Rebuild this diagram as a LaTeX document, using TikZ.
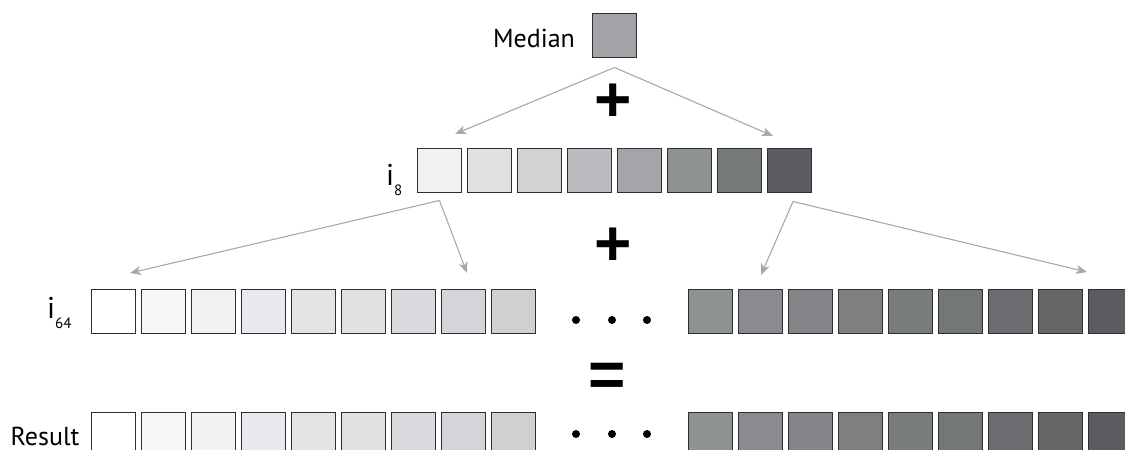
\documentclass[tikz,border=0pt]{standalone}
\usepackage{fontspec}
\setmainfont{PT Sans}
\newfontfamily\opfont{Liberation Sans}
\usetikzlibrary{arrows.meta}
\definecolor{boxc}{HTML}{2E2E2E}
\definecolor{arrc}{HTML}{A8A8A8}
\definecolor{medc}{HTML}{A3A2A7}
\begin{document}
\begin{tikzpicture}[x=1pt,y=-1pt,
  cell/.style={draw=boxc, line width=1.5pt, minimum size=44pt, inner sep=0pt, outer sep=0pt},
  arr/.style={draw=arrc, line width=1.1pt, -{Stealth[length=11pt,width=9pt,inset=3pt]}},
  lbl/.style={font=\fontsize{26}{26}\selectfont, inner sep=0pt},
  ilbl/.style={font=\fontsize{30}{30}\selectfont, inner sep=0pt, anchor=base west},
  subl/.style={font=\fontsize{15}{15}\selectfont},
  op/.style={font=\opfont\bfseries\fontsize{64}{64}\selectfont, inner sep=0pt},
  dotc/.style={circle, fill=black, minimum size=8pt, inner sep=0pt}]
\useasboundingbox (0,0) rectangle (1125,450);
\clip (0,0) rectangle (1125,450);
% Median
\node[cell, fill=medc] (med) at (614.5,35.5) {};
\node[lbl, anchor=base] (medl) at (534,47) {Median};
% i8 row
\foreach \c [count=\k] in {F2F2F2,E1E1E1,D2D2D2,BBBBBF,A5A5A9,8E9391,767B7A,5C5D62}{
  \definecolor{tmp}{HTML}{\c}
  \node[cell, fill=tmp] (e\k) at ({389.5+50*\k},170.5) {};
}
\node[ilbl] (i8l) at (386,185) {i\raisebox{-10pt}{\fontsize{15}{15}\selectfont 8}};
% i64 row and result row
\foreach \c [count=\k] in {FFFFFF,F6F6F6,F2F2F2,E9E9ED,E4E4E4,E1E1E1,D8D9DD,D4D5D8,D0D0D0}{
  \definecolor{tmp}{HTML}{\c}
  \node[cell, fill=tmp] (s\k) at ({63.5+50*\k},311.5) {};
  \node[cell, fill=tmp] (r\k) at ({63.5+50*\k},434.5) {};
}
\foreach \c [count=\k] in {8E9391,8B8A8F,858489,7F7F7E,787C7B,727876,6C6B70,676765,5B5C60}{
  \definecolor{tmp}{HTML}{\c}
  \node[cell, fill=tmp] (t\k) at ({660.5+50*\k},311.5) {};
  \node[cell, fill=tmp] (u\k) at ({660.5+50*\k},434.5) {};
}
\node[ilbl] (i64l) at (47,318) {i\raisebox{-10pt}{\fontsize{15}{15}\selectfont 64}};
\node[lbl, anchor=base] (resl) at (45,445) {Result};
% dots
\node[dotc] (da1) at (576,320) {};
\node[dotc] (da2) at (612,320) {};
\node[dotc] (da3) at (647,320) {};
\node[dotc] (db1) at (576,434) {};
\node[dotc] (db2) at (612,434) {};
\node[dotc] (db3) at (647,434) {};
% operators
\node[op] (plus1) at (613,103) {+};
\node[op] (plus2) at (613,247) {+};
\node[op] (eq) at (607,380) {=};
% arrows
\coordinate (apx0) at ([yshift=-10pt]med.south);
\coordinate (ta) at (455,134);
\coordinate (tb) at (773,136);
\draw[arr] (apx0) -- (ta);
\draw[arr] (apx0) -- (tb);
\coordinate (apx1) at ([yshift=-8pt]e1.south);
\coordinate (tc) at (130,273);
\coordinate (td) at (467,273);
\draw[arr] (apx1) -- (tc);
\draw[arr] (apx1) -- (td);
\coordinate (apx2) at ([xshift=3.5pt,yshift=-9pt]e8.south);
\coordinate (te) at (761,275);
\coordinate (tf) at (1087,272);
\draw[arr] (apx2) -- (te);
\draw[arr] (apx2) -- (tf);
\end{tikzpicture}
\end{document}
